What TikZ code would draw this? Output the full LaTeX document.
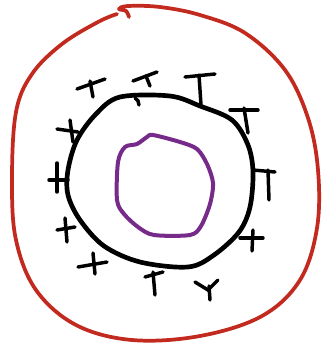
\documentclass[tikz,border=0pt]{standalone}
\usepackage{tikz}
\usetikzlibrary{arrows,arrows.meta}

\definecolor{wallred}{HTML}{C22A20}
\definecolor{corepurple}{HTML}{762A8A}

\begin{document}
\begin{tikzpicture}[
x=0.75pt, y=-0.75pt,
outer/.style={draw=wallred, line width=2.8pt, line cap=round, line join=round},
membrane/.style={draw=black, line width=3.5pt, line join=round},
core/.style={draw=corepurple, line width=3pt, line join=round},
charge/.style={draw=black, line width=2.6pt, line cap=round}
]

\useasboundingbox (0,0) rectangle (324,344);

\draw[outer] plot[smooth, tension=0.6] coordinates {(129,17) (126,11) (119,9) (128,6) (160,7) (200,15) (245,33) (285,70) (308,118) (318,170) (317,228) (300,280) (262,316) (200,336) (132,340) (76,325) (36,290) (16,240) (12,180) (16,112) (32,74) (62,44) (98,22) (117,14)};

\draw[membrane] plot[smooth cycle, tension=0.55] coordinates {(68,170) (77,140) (96,114) (120,97) (170,96) (200,106) (232,120) (248,145) (253,172) (250,207) (239,232) (214,255) (188,267) (140,262) (104,246) (80,220) (68,195)};

\draw[core] plot[smooth cycle, tension=0.5] coordinates {(147,137) (137,144) (125,147) (118,162) (117,200) (124,214) (138,227) (154,235) (190,235) (201,226) (210,204) (213,183) (207,164) (197,149) (180,142) (153,135)};

\draw[charge] (77,89) -- (105,79);
\draw[charge] (90,81) -- (93,97);
\draw[charge] (133,81) -- (157,72);
\draw[charge] (146,76) -- (150,86);
\draw[charge] (135,98) to[bend left=30] (139,105);
\draw[charge] (185,77) -- (215,74);
\draw[charge] (199,75) -- (201,105);
\draw[charge] (230,110) -- (258,110);
\draw[charge] (244,108) -- (248,133);
\draw[charge] (253,170) -- (275,172);
\draw[charge] (268,170) -- (269,200);
\draw[charge] (240,238) -- (263,238);
\draw[charge] (253,230) -- (252,251);
\draw[charge] (195,282) -- (208,290) -- (218,280);
\draw[charge] (209,286) -- (210,300);
\draw[charge] (145,277) -- (163,272);
\draw[charge] (153,272) -- (155,295);
\draw[charge] (78,267) -- (107,262);
\draw[charge] (93,253) -- (95,274);
\draw[charge] (57,230) -- (75,227);
\draw[charge] (65,218) -- (67,242);
\draw[charge] (49,180) -- (68,180);
\draw[charge] (57,163) -- (57,192);
\draw[charge] (57,129) -- (78,132);
\draw[charge] (70,120) -- (73,142);

\end{tikzpicture}
\end{document}
